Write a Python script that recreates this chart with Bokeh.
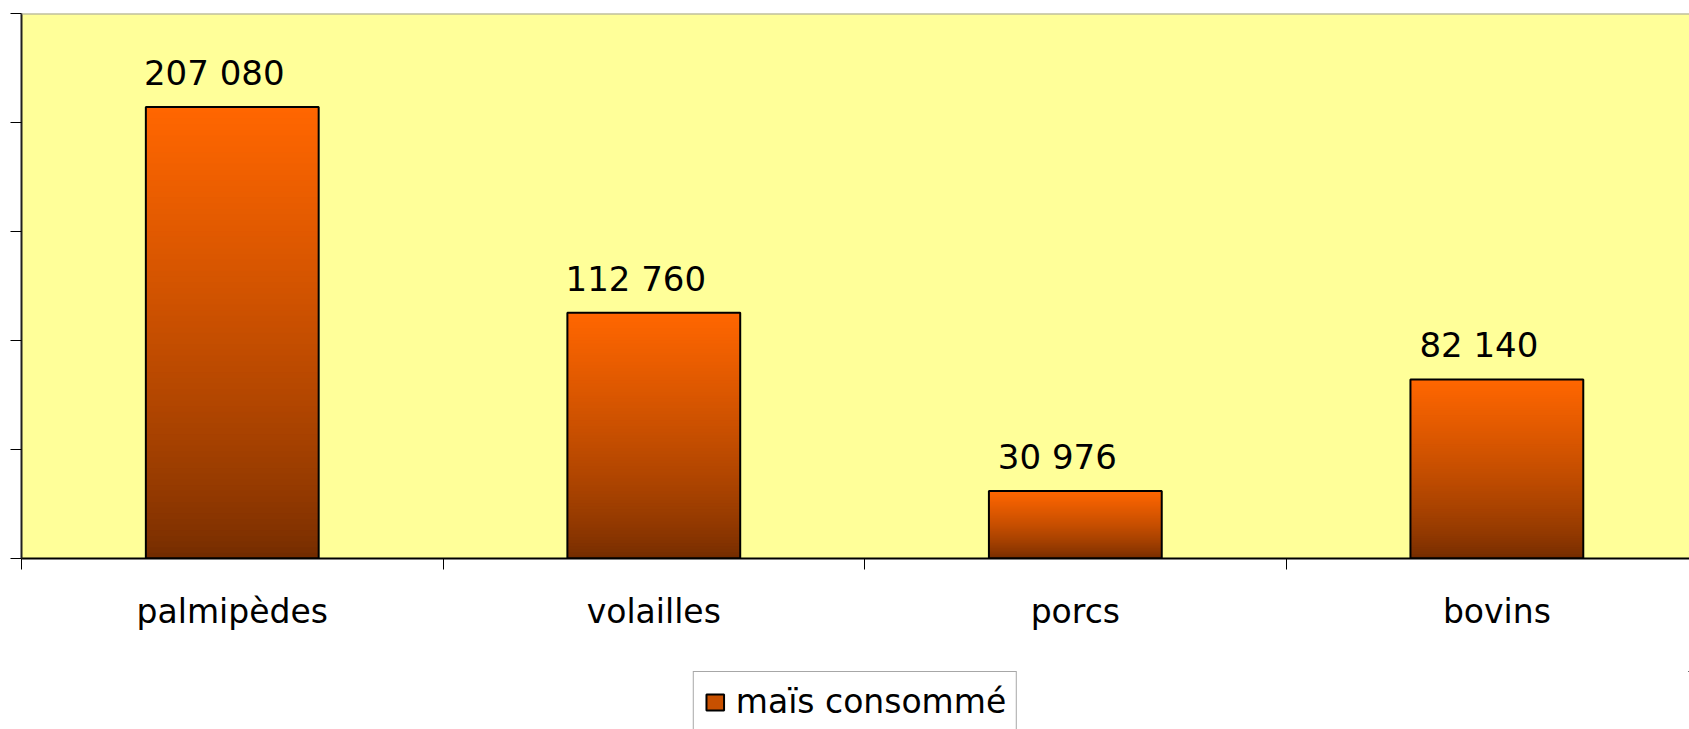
from bokeh.plotting import figure
from bokeh.layouts import column
from bokeh.models import ColumnDataSource, Range1d, FixedTicker, Legend, LegendItem, Span
from bokeh.core.properties import value
from bokeh.embed import file_html
from bokeh.resources import INLINE

# ---- data ----
categories = ["palmipèdes", "volailles", "porcs", "bovins"]
mais_consomme = [207080, 112760, 30976, 82140]
series_name = "maïs consommé"
y_ticks = [0, 50000, 100000, 150000, 200000, 250000]

FONT = "DejaVu Sans"
TOP_RGB = (255, 102, 0)
BOT_RGB = (115, 44, 0)
N = 80
BAR_W = 0.41
SWATCH = "#C85000"

xs = [i + 0.5 for i in range(len(categories))]

p = figure(width=1689, height=671, output_backend="svg", toolbar_location=None,
           x_range=Range1d(0, 3.957), y_range=Range1d(0, 250000),
           min_border_left=21, min_border_right=0, min_border_top=13, min_border_bottom=113)
p.background_fill_color = "#FFFF99"
p.border_fill_color = "white"
p.outline_line_color = None
p.xgrid.visible = False
p.ygrid.visible = False

# gradient slices
def lerp(t):
    r = round(BOT_RGB[0] + (TOP_RGB[0] - BOT_RGB[0]) * t)
    g = round(BOT_RGB[1] + (TOP_RGB[1] - BOT_RGB[1]) * t)
    b = round(BOT_RGB[2] + (TOP_RGB[2] - BOT_RGB[2]) * t)
    return "#%02x%02x%02x" % (r, g, b)

sl = dict(left=[], right=[], bottom=[], top=[], color=[])
for i in range(N):
    t = i / (N - 1)
    tt = t ** 0.75
    c = lerp(tt)
    for x, v in zip(xs, mais_consomme):
        sl["left"].append(x - BAR_W / 2)
        sl["right"].append(x + BAR_W / 2)
        sl["bottom"].append(v * i / N)
        sl["top"].append(v)
        sl["color"].append(c)
p.quad(left="left", right="right", bottom="bottom", top="top", fill_color="color",
       line_color=None, source=ColumnDataSource(sl))

# outline
p.vbar(x=xs, top=mais_consomme, width=BAR_W, fill_color=None, line_color="black", line_width=2)

# data labels
labels = [f"{v:,}".replace(",", " ") for v in mais_consomme]
p.text(x=xs, y=mais_consomme, text=labels, text_font=value(FONT), text_font_size="34px",
       text_color="black", text_align="center", text_baseline="alphabetic",
       x_offset=-18, y_offset=-34)

# top border
p.add_layout(Span(location=250000, dimension="width", line_color="#A0A0A0", line_width=2))

# x axis
xa = p.xaxis[0]
xa.ticker = FixedTicker(ticks=xs, minor_ticks=list(range(len(categories))))
xa.major_label_overrides = {x: c for x, c in zip(xs, categories)}
xa.major_tick_in = 0
xa.major_tick_out = 0
xa.minor_tick_in = 0
xa.minor_tick_out = 11
xa.minor_tick_line_color = "black"
xa.axis_line_color = "black"
xa.axis_line_width = 2
xa.major_label_text_font = FONT
xa.major_label_text_font_size = "33px"
xa.major_label_text_color = "black"
xa.major_label_standoff = 22

# y axis
ya = p.yaxis[0]
ya.ticker = FixedTicker(ticks=y_ticks)
ya.major_label_overrides = {t: "" for t in y_ticks}
ya.major_tick_in = 0
ya.major_tick_out = 11
ya.minor_tick_out = 0
ya.minor_tick_in = 0
ya.major_tick_line_color = "black"
ya.axis_line_color = "#202020"
ya.axis_line_width = 2
ya.major_label_standoff = 0

# legend strip (separate figure beneath the chart)
pl = figure(width=1689, height=58, output_backend="svg", toolbar_location=None,
            x_range=Range1d(-10, -9), y_range=Range1d(-10, -9),
            x_axis_type=None, y_axis_type=None,
            min_border_left=21, min_border_right=0, min_border_top=0, min_border_bottom=0)
pl.outline_line_color = None
pl.background_fill_color = "white"
pl.border_fill_color = "white"
pl.grid.visible = False
swatch = pl.vbar(x=xs, top=mais_consomme, width=BAR_W, fill_color=SWATCH,
                 line_color="black", line_width=2)
legend = Legend(items=[LegendItem(label=series_name, renderers=[swatch])],
                location="top_center", orientation="horizontal",
                label_text_font=FONT, label_text_font_size="33px", label_text_color="black",
                glyph_width=22, glyph_height=20, label_standoff=10, padding=10, margin=0,
                border_line_color="#505050", border_line_width=1,
                background_fill_color="white", background_fill_alpha=1)
pl.add_layout(legend, "center")

layout = column(p, pl, spacing=0)
open("out.html", "w").write(file_html(layout, INLINE))
